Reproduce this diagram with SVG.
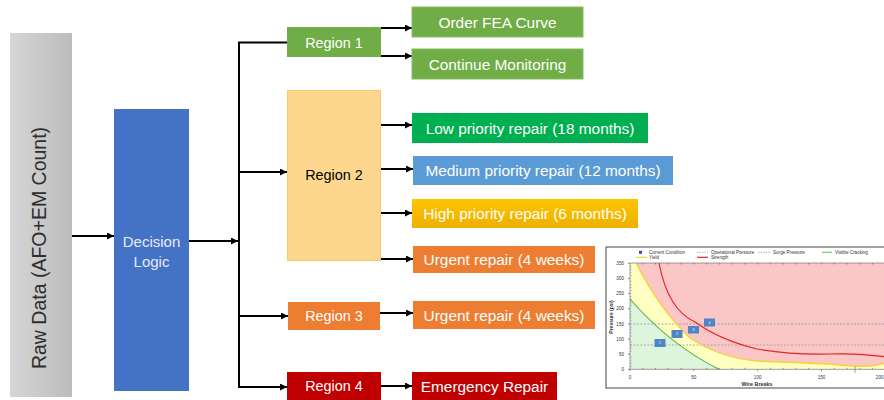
<svg xmlns="http://www.w3.org/2000/svg" width="884" height="400" viewBox="0 0 884 400">
<style>
.lbl{font-family:"Liberation Sans",Arial,sans-serif;fill:#fff;text-anchor:middle}
.reg{font-size:14.4px}
.act{font-size:15.4px}
.conn{stroke:#000;stroke-width:2;fill:none}
.ax{font-family:"Liberation Sans",Arial,sans-serif;font-size:4.6px;fill:#333}
</style>
<defs>
<marker id="ah" markerUnits="userSpaceOnUse" markerWidth="8" markerHeight="8" refX="7" refY="3.5" orient="auto">
<path d="M0,0 L7,3.5 L0,7 z" fill="#000"/>
</marker>
<linearGradient id="gray" x1="0" y1="0" x2="1" y2="0">
<stop offset="0" stop-color="#d6d6d6"/><stop offset="1" stop-color="#bcbcbc"/>
</linearGradient>
<linearGradient id="gold" x1="0" y1="0" x2="0" y2="1">
<stop offset="0" stop-color="#ffc400"/><stop offset="1" stop-color="#ecb000"/>
</linearGradient>
</defs>

<g id="connectors" class="conn">
<line x1="72" y1="236" x2="114" y2="236" marker-end="url(#ah)"/>
<line x1="189" y1="241" x2="238" y2="241" marker-end="url(#ah)"/>
<polyline points="287,42.5 239,42.5 239,387 287,387" marker-end="url(#ah)"/>
<line x1="239" y1="172" x2="287" y2="172" marker-end="url(#ah)"/>
<line x1="239" y1="316" x2="288" y2="316" marker-end="url(#ah)"/>
<line x1="381" y1="28" x2="412" y2="28" marker-end="url(#ah)"/>
<line x1="381" y1="56" x2="412" y2="56" marker-end="url(#ah)"/>
<line x1="381" y1="125" x2="412" y2="125" marker-end="url(#ah)"/>
<line x1="381" y1="169" x2="413" y2="169" marker-end="url(#ah)"/>
<line x1="381" y1="213" x2="412" y2="213" marker-end="url(#ah)"/>
<line x1="381" y1="259" x2="413" y2="259" marker-end="url(#ah)"/>
<line x1="380" y1="313" x2="413" y2="313" marker-end="url(#ah)"/>
<line x1="381" y1="386" x2="412" y2="386" marker-end="url(#ah)"/>
</g>

<g id="raw-data">
<rect x="10" y="33" width="62" height="364" fill="url(#gray)"/>
<text class="lbl" transform="translate(46,248) rotate(-90)" style="font-size:19.5px;fill:#2e2e2e">Raw Data (AFO+EM Count)</text>
</g>

<g id="decision-logic">
<rect x="114" y="109" width="75" height="282" fill="#4472c4"/>
<text class="lbl" x="151.5" y="246.5" style="font-size:15px;fill:#e4ecf8">Decision</text>
<text class="lbl" x="151.5" y="266.5" style="font-size:15px;fill:#e4ecf8">Logic</text>
</g>

<g id="region1">
<rect x="287" y="27" width="94" height="30" fill="#70ad47"/>
<text class="lbl reg" x="334" y="47.5">Region 1</text>
</g>
<g id="region2">
<rect x="287.5" y="90.5" width="93" height="170" fill="#fed78e" stroke="#f7c86c" stroke-width="1"/>
<text class="lbl reg" x="334" y="180" style="fill:#000">Region 2</text>
</g>
<g id="region3">
<rect x="288" y="302" width="92" height="28" fill="#ed7d31"/>
<text class="lbl reg" x="334" y="321">Region 3</text>
</g>
<g id="region4">
<rect x="287" y="372" width="94" height="30" fill="#c00000"/>
<text class="lbl reg" x="334" y="391">Region 4</text>
</g>

<g id="order-fea">
<rect x="412" y="7" width="171" height="30" fill="#70ad47" stroke="#86bb62" stroke-width="1"/>
<text class="lbl act" x="497.5" y="27.5">Order FEA Curve</text>
</g>
<g id="continue-monitoring">
<rect x="412" y="49" width="171" height="30" fill="#70ad47" stroke="#86bb62" stroke-width="1"/>
<text class="lbl act" x="497.5" y="69.5">Continue Monitoring</text>
</g>
<g id="low-priority">
<rect x="412" y="113" width="236" height="30" fill="#00b050"/>
<text class="lbl act" x="530" y="133.5">Low priority repair (18 months)</text>
</g>
<g id="medium-priority">
<rect x="413" y="156" width="260" height="29" fill="#5b9bd5"/>
<text class="lbl act" x="543" y="176">Medium priority repair (12 months)</text>
</g>
<g id="high-priority">
<rect x="412" y="199" width="226" height="29" fill="url(#gold)"/>
<text class="lbl act" x="525" y="219">High priority repair (6 months)</text>
</g>
<g id="urgent-repair-2">
<rect x="413" y="246" width="182" height="27" fill="#ed7d31"/>
<text class="lbl act" x="504" y="265">Urgent repair (4 weeks)</text>
</g>
<g id="urgent-repair-3">
<rect x="413" y="301" width="182" height="28" fill="#ed7d31"/>
<text class="lbl act" x="504" y="320.5">Urgent repair (4 weeks)</text>
</g>
<g id="emergency-repair">
<rect x="412" y="372" width="145" height="30" fill="#c00000"/>
<text class="lbl act" x="484.5" y="391.5">Emergency Repair</text>
</g>

<g id="chart">
<rect x="606" y="247" width="290" height="141" fill="#fff" stroke="#444" stroke-width="1"/>
<rect x="630" y="263" width="256" height="106.3" fill="#fbc6c6"/>
<path d="M630,263 L636,263 Q660,310 690,338 Q720,358 757,361 Q800,363 830,364 Q855,367 870,366 Q878,365 886,363 L886,369.3 L630,369.3 Z" fill="#ffffc2"/>
<path d="M630,299 Q670,345 719,369.3 L630,369.3 Z" fill="#dcf5dc"/>
<line x1="630" y1="345" x2="886" y2="345" stroke="#9a9a9a" stroke-width="0.8" stroke-dasharray="2,1.5"/>
<line x1="630" y1="324" x2="886" y2="324" stroke="#8497b8" stroke-width="0.8" stroke-dasharray="2,1.5"/>
<path d="M636,263 Q660,310 690,338 Q720,358 757,361 Q800,363 830,364 Q855,367 870,366 Q878,365 886,363" fill="none" stroke="#f2d43a" stroke-width="1.4"/>
<path d="M630,299 Q670,345 719,369.3" fill="none" stroke="#4cb04c" stroke-width="1.1"/>
<path d="M659,263 Q668,310 695,322 Q720,340 757,349 Q790,355 830,354 Q860,353 886,357" fill="none" stroke="#e0262b" stroke-width="1.2"/>
<line x1="855" y1="366" x2="855" y2="373" stroke="#777" stroke-width="0.7"/>
<path d="M630,263 V369.3 H886 M630,263 H886" fill="none" stroke="#666" stroke-width="0.6"/>
<path d="M630,263.3h-2M630,278.4h-2M630,293.6h-2M630,308.7h-2M630,323.9h-2M630,339h-2M630,354.2h-2M630,369.3h-2" stroke="#444" stroke-width="0.6"/>
<path d="M630,266.3h1.5M630,269.4h1.5M630,272.4h1.5M630,275.4h1.5M630,281.4h1.5M630,284.5h1.5M630,287.5h1.5M630,290.5h1.5M630,296.6h1.5M630,299.6h1.5M630,302.7h1.5M630,305.7h1.5M630,311.7h1.5M630,314.8h1.5M630,317.8h1.5M630,320.8h1.5M630,326.9h1.5M630,329.9h1.5M630,333h1.5M630,336h1.5M630,342h1.5M630,345.1h1.5M630,348.1h1.5M630,351.2h1.5M630,357.2h1.5M630,360.2h1.5M630,363.3h1.5M630,366.3h1.5" stroke="#555" stroke-width="0.4"/>
<path d="M630,369.3v2M693.8,369.3v2M757.7,369.3v2M821.5,369.3v2M642.8,369.3v-1.5M655.5,369.3v-1.5M668.3,369.3v-1.5M681.1,369.3v-1.5M706.6,369.3v-1.5M719.4,369.3v-1.5M732.2,369.3v-1.5M744.9,369.3v-1.5M770.5,369.3v-1.5M783.2,369.3v-1.5M796,369.3v-1.5M808.7,369.3v-1.5M834.3,369.3v-1.5M847.1,369.3v-1.5M859.8,369.3v-1.5M872.6,369.3v-1.5M642.8,263v1.5M655.5,263v1.5M668.3,263v1.5M681.1,263v1.5M693.8,263v1.5M706.6,263v1.5M719.4,263v1.5M732.2,263v1.5M744.9,263v1.5M757.7,263v1.5M770.5,263v1.5M783.2,263v1.5M796,263v1.5M808.7,263v1.5M821.5,263v1.5M834.3,263v1.5M847.1,263v1.5M859.8,263v1.5M872.6,263v1.5" stroke="#444" stroke-width="0.5"/>
<g class="ax" text-anchor="end">
<text x="624" y="265">350</text><text x="624" y="280">300</text><text x="624" y="295.2">250</text><text x="624" y="310.3">200</text><text x="624" y="325.5">150</text><text x="624" y="340.6">100</text><text x="624" y="355.8">50</text><text x="624" y="371">0</text>
</g>
<g class="ax" text-anchor="middle">
<text x="630" y="378.5">0</text><text x="693.8" y="378.5">50</text><text x="757.7" y="378.5">100</text><text x="821.5" y="378.5">150</text>
</g>
<text class="ax" x="883.5" y="378.5" text-anchor="end">200</text>
<text x="757" y="386" style="font-family:'Liberation Sans',Arial,sans-serif;font-size:5.4px;font-weight:bold;fill:#333" text-anchor="middle">Wire Breaks</text>
<text transform="translate(613,317) rotate(-90)" style="font-family:'Liberation Sans',Arial,sans-serif;font-size:5px;font-weight:bold;fill:#333" text-anchor="middle">Pressure (psi)</text>
<rect x="639" y="250.8" width="3" height="3" fill="#7030a0"/>
<text class="ax" x="649" y="253.8">Current Condition</text>
<line x1="697" y1="252.3" x2="708" y2="252.3" stroke="#a8a8a8" stroke-width="0.8" stroke-dasharray="1.5,1"/>
<text class="ax" x="711" y="253.8">Operational Pressure</text>
<line x1="758" y1="252.3" x2="771" y2="252.3" stroke="#8ea6c8" stroke-width="0.8" stroke-dasharray="1.5,1"/>
<text class="ax" x="773" y="253.8">Surge Pressure</text>
<line x1="822" y1="252.3" x2="832" y2="252.3" stroke="#6ccf6c" stroke-width="1.2"/>
<text class="ax" x="835" y="253.8">Visible Cracking</text>
<line x1="636" y1="257.3" x2="647" y2="257.3" stroke="#f2d43a" stroke-width="1.2"/>
<text class="ax" x="649" y="258.8">Yield</text>
<line x1="697" y1="257.3" x2="708" y2="257.3" stroke="#e0262b" stroke-width="1.2"/>
<text class="ax" x="711" y="258.8">Strength</text>
<g style="font-family:'Liberation Sans',Arial,sans-serif;font-size:3.5px;fill:#fff" text-anchor="middle">
<rect x="654.5" y="339" width="11" height="8" fill="#4f86c6"/><text x="660" y="344.3">1</text>
<rect x="671.5" y="330" width="11" height="8" fill="#4f86c6"/><text x="677" y="335.3">2</text>
<rect x="688" y="326" width="11" height="7.5" fill="#4f86c6"/><text x="693.5" y="331">3</text>
<rect x="704" y="318.5" width="11" height="8" fill="#4f86c6"/><text x="709.5" y="323.8">4</text>
</g>
</g>
</svg>
